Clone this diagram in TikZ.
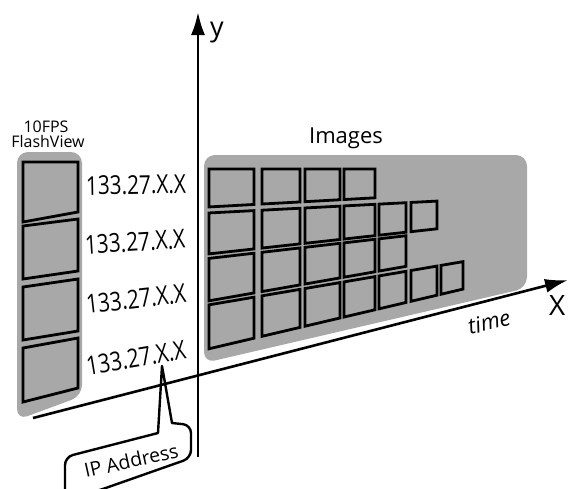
\documentclass[tikz,border=0pt]{standalone}
\usepackage{fontspec}
\setmainfont{Open Sans}
\newfontfamily\ipfont{Open Sans}[FakeStretch=0.8]
\usetikzlibrary{arrows.meta}
\definecolor{panelgray}{RGB}{168,168,168}
\tikzset{
  panel/.style={fill=panelgray, draw=none, rounded corners=11pt},
  frame/.style={fill=panelgray, draw=black, line width=2.8pt, line join=miter},
  axis/.style={draw=black, line width=2.6pt, -{Latex[length=23pt,width=14pt]}},
  callout/.style={draw=black, fill=white, line width=2.4pt, line join=round},
  iplabel/.style={font=\ipfont\fontsize{26}{30}\selectfont, inner sep=0pt},
  txt/.style={inner sep=0pt}
}
\newcommand\frm[6]{\draw[frame] ({#1},{#3-#4*(#1-208)}) -- ({#2},{#3-#4*(#2-208)}) -- ({#2},{#5-#6*(#2-208)}) -- ({#1},{#5-#6*(#1-208)}) -- cycle;}
\begin{document}
\begin{tikzpicture}[x=1pt,y=-1pt]
\useasboundingbox (0,0) rectangle (569,488);
\clip (0,0) rectangle (569,488);
% panels
\path[panel] (17,152) -- (82,152) -- (82,396) -- (17,420) -- cycle;
\path[panel] (204,155) -- (527,155) -- (527,288) -- (204,363) -- cycle;
% left frames
\draw[frame] (23,162) -- (78,162) -- (78,212) -- (23,222) -- cycle;
\draw[frame] (23,226) -- (78,219) -- (78,271) -- (23,279) -- cycle;
\draw[frame] (23,287) -- (78,279) -- (78,331) -- (23,340) -- cycle;
\draw[frame] (23,348) -- (78,338) -- (78,388) -- (23,402) -- cycle;
% image grid
\foreach \xa/\xb in {209/254,262/300,305/340,344/375}
  {\frm{\xa}{\xb}{169}{0.0}{207}{0.055}}
\foreach \xa/\xb in {209/254,262/300,305/340,344/375,379/406,411/437}
  {\frm{\xa}{\xb}{213}{0.052}{254}{0.11}}
\foreach \xa/\xb in {209/254,262/300,305/340,344/375,379/406}
  {\frm{\xa}{\xb}{258.5}{0.115}{301}{0.175}}
\foreach \xa/\xb in {209/254,262/300,305/340,344/375,379/406,411/437,441/463}
  {\frm{\xa}{\xb}{305}{0.17}{349}{0.235}}
% labels
\node[txt, font=\fontsize{16}{16}\selectfont, anchor=base] (fps) at (46,132) {10FPS};
\node[txt, font=\fontsize{16}{16}\selectfont, anchor=base] (fv) at (48,147) {FlashView};
\node[txt, font=\fontsize{22}{22}\selectfont, anchor=base] (img) at (346,143) {Images};
\node[iplabel, rotate=1] (ip1) at (136,185) {133.27.X.X};
\node[iplabel, rotate=3.5] (ip2) at (135,242) {133.27.X.X};
\node[iplabel, rotate=6.5] (ip3) at (136,299) {133.27.X.X};
\node[iplabel, rotate=9.5] (ip4) at (136,358) {133.27.X.X};
% callout
\coordinate (tip) at (162,366);
\draw[callout] (158,433) -- (tip) -- (172,423) [rounded corners=8pt] -- (191,425) -- (191,458) -- (100,490) -- (65,500) -- (65,457) [sharp corners] -- cycle;
\node[txt, font=\fontsize{19.5}{20}\selectfont, rotate=12.5, anchor=base west] (ipa) at (86,478) {IP Address};
% axes
\coordinate (yb) at (198,457);
\coordinate (yt) at (198,12);
\coordinate (xb) at (33,418);
\coordinate (xt) at (568,280);
\draw[axis] (yb) -- (yt);
\draw[axis] (xb) -- (xt);
\node[txt, font=\fontsize{27}{27}\selectfont, anchor=base west] (ylab) at (210,36) {y};
\node[txt, font=\fontsize{28}{28}\selectfont, anchor=base west] (xlab) at (549,315) {X};
\node[txt, font=\itshape\fontsize{22}{22}\selectfont, rotate=14] (time) at (489,322) {time};
\end{tikzpicture}
\end{document}
